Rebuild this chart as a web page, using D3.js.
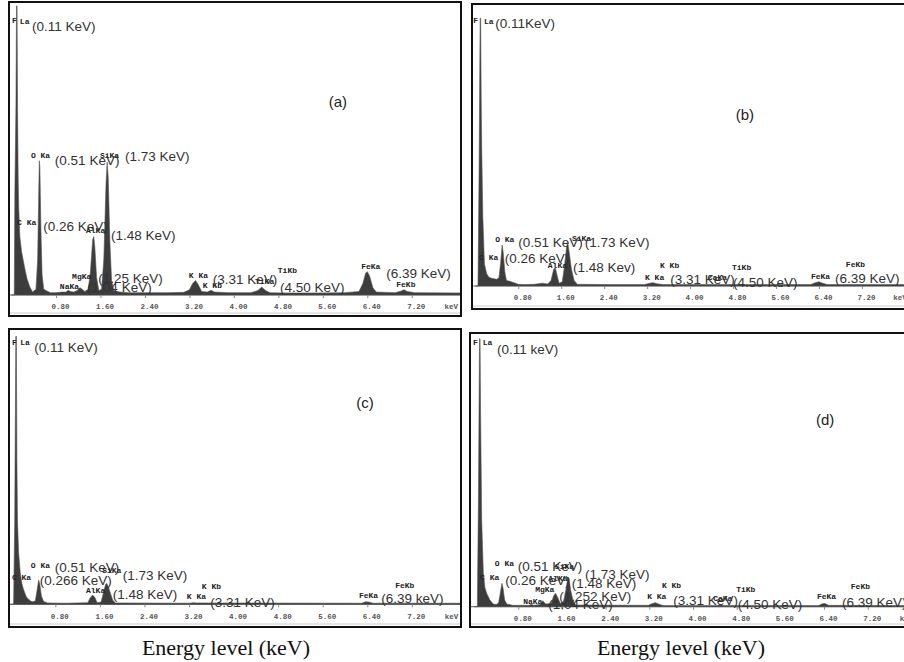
<!DOCTYPE html>
<html>
<head>
<meta charset="utf-8">
<script src="https://cdn.jsdelivr.net/npm/d3@7"></script>
<style>
  body { margin: 0; background: #fff; }
  svg { display: block; }
</style>
</head>
<body>
<div id="frame"></div>
<script>
// EDS spectra, [keV, counts as % of full scale]
const spectrumA = [
  [0.00, 0], [0.05, 0], [0.06, 35], [0.08, 65], [0.09, 99], [0.10, 99], [0.11, 62],
  [0.12, 40], [0.13, 30], [0.15, 20], [0.18, 15], [0.21, 12], [0.24, 9], [0.28, 5.5],
  [0.33, 2.7], [0.38, 1], [0.44, 2], [0.47, 12], [0.49, 35], [0.50, 46], [0.51, 44],
  [0.53, 22], [0.55, 7], [0.58, 2], [0.62, 1.5], [0.70, 0.8], [0.80, 0.8], [0.90, 1],
  [0.98, 1], [1.02, 1.6], [1.06, 1.2], [1.12, 1], [1.18, 1.5], [1.23, 2.5], [1.27, 2],
  [1.32, 1.2], [1.38, 2], [1.42, 8], [1.46, 19], [1.48, 20], [1.50, 16], [1.53, 6],
  [1.57, 1.5], [1.62, 2], [1.66, 12], [1.70, 38], [1.72, 45.5], [1.74, 40], [1.77, 18],
  [1.80, 5], [1.84, 1.5], [1.95, 1], [2.10, 0.8], [2.40, 0.8], [2.80, 0.8], [3.10, 0.9],
  [3.20, 1.8], [3.26, 4], [3.31, 5], [3.36, 3.5], [3.42, 1.2], [3.52, 1], [3.59, 1.6],
  [3.65, 1], [3.90, 0.8], [4.30, 0.8], [4.43, 1.5], [4.50, 2.7], [4.57, 1.5], [4.65, 0.8],
  [4.90, 0.7], [5.50, 0.7], [6.00, 0.8], [6.25, 1.2], [6.32, 4], [6.37, 7.5], [6.40, 8],
  [6.44, 6.5], [6.50, 2.5], [6.56, 1], [6.90, 0.8], [7.00, 1.3], [7.06, 1.8], [7.12, 1.2],
  [7.25, 0.8], [8.07, 0.7]
];
const spectrumB = [
  [0.00, 0], [0.05, 0], [0.07, 40], [0.09, 96], [0.10, 96], [0.11, 67], [0.12, 49],
  [0.14, 25], [0.17, 8], [0.21, 4.5], [0.25, 3.2], [0.30, 2.8], [0.35, 2.6], [0.40, 2.4],
  [0.44, 3], [0.47, 8], [0.50, 14.7], [0.52, 12], [0.55, 5], [0.58, 2], [0.64, 1.7],
  [0.72, 1.2], [0.80, 0.6], [0.90, 0.5], [1.10, 0.6], [1.25, 1], [1.35, 0.7], [1.41, 2],
  [1.46, 6], [1.49, 6.5], [1.52, 4], [1.56, 1], [1.62, 1.5], [1.66, 7], [1.70, 14],
  [1.72, 15.5], [1.75, 12], [1.79, 6], [1.84, 2], [1.90, 0.6], [2.50, 0.5], [3.15, 0.5],
  [3.25, 1], [3.31, 1.2], [3.38, 0.8], [3.50, 0.5], [6.25, 0.5], [6.33, 1.2], [6.40, 1.5],
  [6.47, 1], [6.55, 0.5], [8.07, 0.5]
];
const spectrumC = [
  [0.00, 0], [0.05, 0], [0.07, 30], [0.09, 98.4], [0.10, 98.4], [0.11, 52], [0.12, 31],
  [0.14, 19], [0.17, 11.5], [0.20, 7.5], [0.23, 5.3], [0.28, 2.7], [0.33, 1.6], [0.38, 0.9],
  [0.44, 1.2], [0.47, 5], [0.50, 8.9], [0.52, 7.5], [0.55, 3], [0.59, 1], [0.66, 0.5],
  [1.00, 0.4], [1.38, 0.6], [1.43, 2.5], [1.47, 3.4], [1.51, 2.5], [1.55, 0.6], [1.62, 0.8],
  [1.66, 4], [1.70, 7.2], [1.72, 7.7], [1.75, 6.5], [1.79, 4], [1.83, 1.5], [1.88, 0.5],
  [3.20, 0.4], [3.28, 0.6], [3.33, 0.5], [6.30, 0.4], [6.37, 0.9], [6.43, 0.8], [6.50, 0.4],
  [8.07, 0.4]
];
const spectrumD = [
  [0.00, 0], [0.05, 0], [0.07, 40], [0.09, 99], [0.10, 99], [0.11, 71.5], [0.12, 52],
  [0.13, 32], [0.16, 12.4], [0.19, 7], [0.22, 5], [0.28, 2.5], [0.34, 1], [0.40, 0.8],
  [0.44, 1.5], [0.47, 5], [0.50, 8.6], [0.52, 7], [0.55, 2.5], [0.59, 1], [0.70, 0.5],
  [1.00, 0.5], [1.04, 0.9], [1.08, 0.5], [1.20, 0.8], [1.25, 2.2], [1.30, 1], [1.40, 1.2],
  [1.45, 4], [1.48, 5], [1.52, 3.5], [1.57, 1.2], [1.63, 2], [1.67, 6], [1.71, 11],
  [1.73, 10.5], [1.76, 6], [1.80, 2.5], [1.85, 0.6], [3.18, 0.5], [3.26, 1.2], [3.31, 1.5],
  [3.37, 1], [3.45, 0.4], [4.45, 0.4], [4.50, 0.8], [4.55, 0.4], [6.30, 0.4], [6.37, 1.1],
  [6.42, 1.2], [6.48, 0.5], [8.07, 0.4]
];

// element line labels [keV, %, text]
const linesA = [
  [0.01, 94.2, "F"], [0.15, 93.8, "La"], [0.35, 47.9, "O Ka"], [1.59, 47.9, "SiKa"],
  [0.10, 25, "C Ka"], [1.34, 22.3, "AlKa"], [1.09, 6.5, "MgKa"], [0.87, 3.1, "NaKa"],
  [3.19, 6.8, "K Ka"], [3.44, 3.4, "K Kb"], [4.79, 8.6, "TiKb"], [4.38, 4.8, "TiKa"],
  [6.29, 9.9, "FeKa"], [6.92, 3.8, "FeKb"]
];
const linesB = [
  [-0.04, 95.3, "F"], [0.16, 95, "La"], [0.37, 16.8, "O Ka"], [1.80, 17.2, "SiKa"],
  [0.07, 10.4, "C Ka"], [1.35, 7.5, "AlKa"], [3.44, 7.5, "K Kb"], [3.16, 3.2, "K Ka"],
  [4.33, 3.2, "CaKa"], [4.78, 6.8, "TiKb"], [6.25, 3.6, "FeKa"], [6.90, 7.9, "FeKb"]
];
const linesC = [
  [0.02, 96.3, "F"], [0.17, 96.3, "La"], [0.36, 14.4, "O Ka"], [1.64, 12.6, "SiKa"],
  [0.02, 10, "C Ka"], [1.35, 5.3, "AlKa"], [3.43, 6.7, "K Kb"], [3.16, 3, "K Ka"],
  [6.90, 7.1, "FeKb"], [6.25, 3.4, "FeKa"]
];
const linesD = [
  [-0.03, 97.8, "F"], [0.15, 97.8, "La"], [0.37, 16.1, "O Ka"], [1.47, 15, "SiKa"],
  [0.10, 11, "C Ka"], [1.35, 10.6, "AlKa"], [1.11, 6.5, "MgKa"], [0.89, 2.1, "NaKa"],
  [3.43, 8, "K Kb"], [3.16, 4, "K Ka"], [4.79, 6.5, "TiKb"], [4.37, 3.2, "CaKa"],
  [6.27, 4, "FeKa"], [6.89, 7.6, "FeKb"]
];

// energy annotations [keV, %, text]
const energyA = [
  [0.37, 92.1, "(0.11 KeV)"], [0.78, 46.2, "(0.51 KeV)"], [2.04, 47.6, "(1.73 KeV)"],
  [0.57, 23.6, "(0.26 KeV)"], [1.79, 20.5, "(1.48 KeV)"], [1.56, 5.8, "(1.25 KeV)"],
  [1.36, 2.7, "(1.04 KeV)"], [3.62, 5.5, "(3.31 KeV)"], [4.83, 2.7, "(4.50 KeV)"],
  [6.74, 7.5, "(6.39 KeV)"]
];
const energyB = [
  [0.37, 94.3, "(0.11KeV)"], [0.80, 15.8, "(0.51 KeV)"], [2.04, 15.8, "(1.73 KeV)"],
  [0.55, 10, "(0.26 KeV)"], [1.82, 6.8, "(1.48 Kev)"], [3.63, 2.5, "(3.31 KeV)"],
  [4.80, 1.4, "(4.50 KeV)"], [6.70, 2.9, "(6.39 KeV)"]
];
const energyC = [
  [0.42, 94.5, "(0.11 KeV)"], [0.79, 13.7, "(0.51 KeV)"], [2.01, 10.8, "(1.73 KeV)"],
  [0.52, 8.9, "(0.266 KeV)"], [1.83, 3.8, "(1.48 KeV)"], [3.58, 0.8, "(3.31 KeV)"],
  [6.65, 2.3, "(6.39 keV)"]
];
const energyD = [
  [0.41, 95.2, "(0.11 keV)"], [0.79, 15, "(0.51 KeV)"], [2.02, 12.1, "(1.73 KeV)"],
  [0.56, 9.9, "(0.26 KeV)"], [1.78, 8.8, "(1.48 KeV)"], [1.55, 4, "(1.252 KeV)"],
  [1.35, 1, "(1.04 KeV)"], [3.64, 2.5, "(3.31 KeV)"], [4.82, 1, "(4.50 KeV)"],
  [6.73, 1.7, "(6.39 KeV)"]
];

// panel tag [keV, %, text]
const tags = [[5.87, 66.4, "(a)"], [5.02, 61.3, "(b)"], [6.36, 73.9, "(c)"], [6.42, 69.3, "(d)"]];

const xTicks = [0.8, 1.6, 2.4, 3.2, 4.0, 4.8, 5.6, 6.4, 7.2];
const xLabel = "Energy level (keV)";

const W = 904, H = 662;
const kevMax = 8.07;

// layout: box [x1,y1,x2,y2], x of 0 keV, px per keV, baseline y, full scale y
const panels = [
  { box: [9, 2, 461, 316], x0: 11.5, k: 55.6, base: 295, top: 3, spec: spectrumA, lines: linesA, energy: energyA, tag: tags[0] },
  { box: [472, 4, 908, 309], x0: 475.3, k: 53.7, base: 286, top: 7, spec: spectrumB, lines: linesB, energy: energyB, tag: tags[1] },
  { box: [9, 329, 461, 627], x0: 10.8, k: 55.7, base: 604.3, top: 332, spec: spectrumC, lines: linesC, energy: energyC, tag: tags[2] },
  { box: [470, 333, 908, 627], x0: 474.6, k: 54.6, base: 606.7, top: 336, spec: spectrumD, lines: linesD, energy: energyD, tag: tags[3] }
];

const svg = d3.select("#frame").append("svg")
  .attr("width", W).attr("height", H)
  .attr("viewBox", [0, 0, W, H]);

panels.forEach((p, i) => {
  const [bx1, by1, bx2, by2] = p.box;
  const x = d3.scaleLinear().domain([0, kevMax]).range([p.x0, p.x0 + kevMax * p.k]);
  const y = d3.scaleLinear().domain([0, 100]).range([p.base, p.top]);

  svg.append("clipPath").attr("id", "clip" + i)
    .append("rect").attr("x", bx1).attr("y", by1).attr("width", bx2 - bx1).attr("height", by2 - by1);

  const g = svg.append("g").attr("clip-path", `url(#clip${i})`);

  // baseline
  g.append("line")
    .attr("x1", bx1).attr("x2", bx2)
    .attr("y1", y(0)).attr("y2", y(0))
    .attr("stroke", "#777").attr("stroke-width", 1.2);

  // spectrum
  const area = d3.area()
    .x(d => x(d[0]))
    .y0(y(0))
    .y1(d => y(d[1]));
  g.append("path")
    .datum(p.spec)
    .attr("d", area)
    .attr("fill", "#3d3d3d")
    .attr("stroke", "#555")
    .attr("stroke-width", 0.6);

  // axis
  const axis = d3.axisBottom(x)
    .tickValues(xTicks)
    .tickSize(3)
    .tickPadding(6)
    .tickFormat(d3.format(".2f"));
  const ax = g.append("g").attr("transform", `translate(0,${y(0)})`).call(axis);
  ax.select(".domain").remove();
  ax.selectAll(".tick line").attr("stroke", "#888");
  ax.selectAll(".tick text")
    .attr("dx", 4)
    .attr("fill", "#555")
    .style("font-family", "'Liberation Mono', monospace")
    .style("font-size", "7.5px")
    .style("font-weight", "bold");
  ax.append("text")
    .attr("x", x(8.0) - 5).attr("y", 9).attr("dy", "0.71em")
    .attr("text-anchor", "middle")
    .attr("fill", "#555")
    .style("font-family", "'Liberation Mono', monospace")
    .style("font-size", "7.5px")
    .style("font-weight", "bold")
    .text("keV");

  // element line labels
  g.selectAll(".line-lab").data(p.lines).join("text")
    .attr("x", d => x(d[0])).attr("y", d => y(d[1]))
    .attr("dy", "0.35em")
    .attr("fill", "#222")
    .style("font-family", "'Liberation Mono', monospace")
    .style("font-size", "8px")
    .style("font-weight", "bold")
    .text(d => d[2]);

  // energy labels
  g.selectAll(".en-lab").data(p.energy).join("text")
    .attr("x", d => x(d[0])).attr("y", d => y(d[1]))
    .attr("dy", "0.36em")
    .attr("fill", "#333")
    .style("font-family", "'Liberation Sans', Arial, sans-serif")
    .style("font-size", "13.5px")
    .text(d => d[2]);

  // panel tag
  g.append("text")
    .attr("x", x(p.tag[0])).attr("y", y(p.tag[1]))
    .attr("dy", "0.36em")
    .attr("text-anchor", "middle")
    .attr("fill", "#222")
    .style("font-family", "'Liberation Sans', Arial, sans-serif")
    .style("font-size", "15px")
    .text(p.tag[2]);

  // inner separator above bottom border
  g.append("line")
    .attr("x1", bx1).attr("x2", bx2)
    .attr("y1", by2 - 3).attr("y2", by2 - 3)
    .attr("stroke", "#ccc").attr("stroke-width", 1);

  // frame
  svg.append("rect")
    .attr("x", bx1).attr("y", by1)
    .attr("width", bx2 - bx1).attr("height", by2 - by1)
    .attr("fill", "none")
    .attr("stroke", "#111")
    .attr("stroke-width", 2);
});

// x titles under the bottom panels
[panels[2], panels[3]].forEach(p => {
  svg.append("text")
    .attr("x", (p.box[0] + Math.min(p.box[2], W)) / 2 + (p === panels[3] ? -6 : -9))
    .attr("y", 655)
    .attr("text-anchor", "middle")
    .attr("fill", "#111")
    .style("font-family", "'Liberation Serif', 'Times New Roman', serif")
    .style("font-size", "22px")
    .text(xLabel);
});
</script>
</body>
</html>
